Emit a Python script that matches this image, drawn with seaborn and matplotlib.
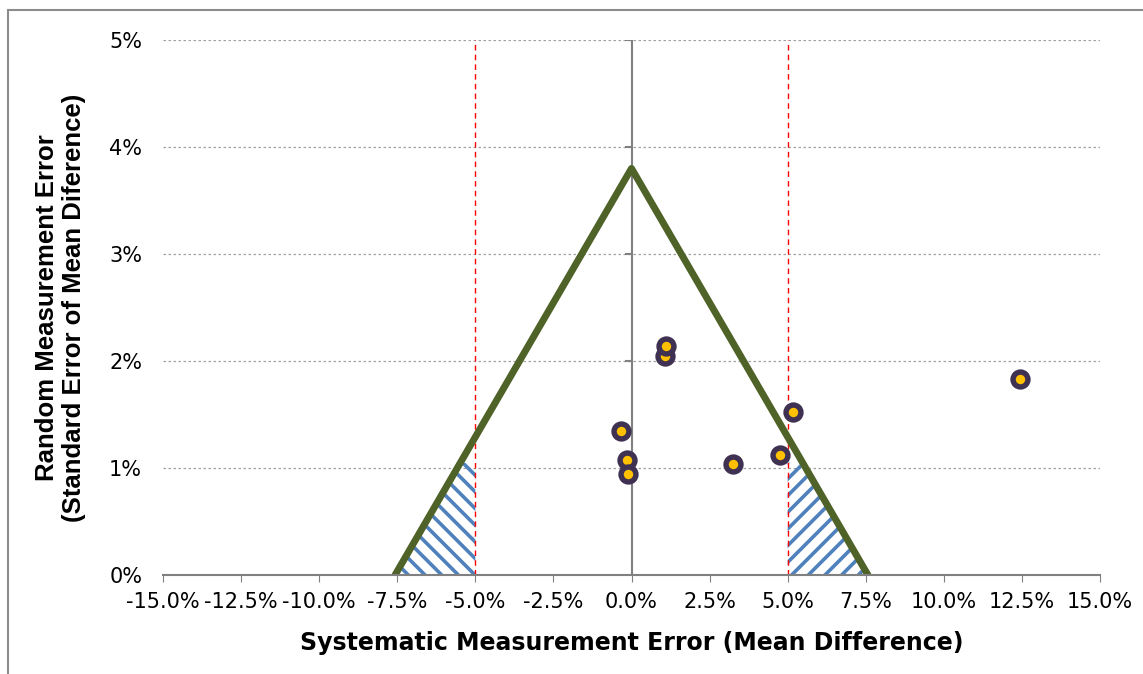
import numpy as np
import pandas as pd
import seaborn as sns
import matplotlib as mpl
mpl.use('Agg')
import matplotlib.pyplot as plt
from matplotlib.patches import Rectangle
from matplotlib.ticker import FuncFormatter

# measured points (systematic error %, random error %)
mean_diff = [-0.35, -0.13, -0.10, 1.07, 1.11, 3.24, 4.75, 5.17, 12.44]
std_err = [1.35, 1.075, 0.94, 2.05, 2.14, 1.04, 1.12, 1.52, 1.83]

# acceptance triangle
tri_x = [-7.57, 0.0, 7.57]
tri_y = [0.0, 3.80, 0.0]

# hatched zones
hatch_top = 1.05
limit = 5.0

sns.set_style('white')
plt.rcParams['font.family'] = ['DejaVu Sans']
plt.rcParams['text.color'] = 'black'
plt.rcParams['axes.labelcolor'] = 'black'
plt.rcParams['hatch.linewidth'] = 2.6
plt.rcParams['hatch.color'] = '#4f81bd'

fig = plt.figure(figsize=(11.43, 6.74), dpi=100)
ax = fig.add_axes([163/1143, 1-575/674, 937/1143, 535/674])

# outer border of the chart area
fig.patches.append(Rectangle((8/1143, -0.1), 1.2, 1 - 10/674 + 0.1, transform=fig.transFigure,
                             fill=False, edgecolor='#8c8c8c', linewidth=1.5, zorder=0))

for v in [1, 2, 3, 4, 5]:
    ax.axhline(v, color='#a0a0a0', linestyle=(0, (2, 2)), linewidth=0.9, zorder=1)

ax.axvline(0, color='#808080', linewidth=1.5, zorder=2)
ax.plot(np.zeros(5), [1, 2, 3, 4, 5], marker=0, markersize=5, markeredgewidth=1.5,
        color='#808080', linestyle='none', zorder=2)

ax.vlines([-limit, limit], 0, 5, colors='red', linestyles=(0, (4, 3)), linewidth=1.0, zorder=3)

# hatched zones between triangle sides and +/-5%
slope = tri_y[1] / tri_x[2]
ys = np.array([0.0, hatch_top])
left_edge = -(tri_x[2] - ys / slope)
right_edge = tri_x[2] - ys / slope
ax.fill_betweenx(ys, left_edge, [-limit, -limit], facecolor='none', edgecolor='#4f81bd',
                 hatch='\\\\', linewidth=0, zorder=2)
ax.fill_betweenx(ys, [limit, limit], right_edge, facecolor='none', edgecolor='#4f81bd',
                 hatch='//', linewidth=0, zorder=2)

sns.lineplot(x=tri_x, y=tri_y, ax=ax, color='#4f6228', linewidth=5, sort=False, zorder=4)

pts = pd.DataFrame({'x': mean_diff, 'y': std_err})
sns.scatterplot(data=pts, x='x', y='y', ax=ax, s=115, color='#ffc000', edgecolor='#3f3151',
                linewidth=3.9, zorder=5)

ax.set_xlim(-15, 15)
ax.set_ylim(0, 5)
ax.set_xticks(np.arange(-15, 15.1, 2.5))
ax.set_yticks([0, 1, 2, 3, 4, 5])
ax.xaxis.set_major_formatter(FuncFormatter(lambda v, p: '{:.1f}%'.format(v)))
ax.yaxis.set_major_formatter(FuncFormatter(lambda v, p: '{:.0f}%'.format(v)))
ax.tick_params(axis='x', length=5, color='#808080', direction='out', labelsize=15, pad=7,
               bottom=True, labelcolor='black')
ax.tick_params(axis='y', length=0, labelsize=15, pad=15, labelcolor='black')

for s in ['top', 'right', 'left']:
    ax.spines[s].set_visible(False)
ax.spines['bottom'].set_color('#808080')
ax.spines['bottom'].set_linewidth(1.5)
ax.spines['bottom'].set_zorder(6)

ax.set_xlabel('Systematic Measurement Error (Mean Difference)', fontsize=17, fontweight='bold')
ax.xaxis.set_label_coords(0.5, -0.105)
ax.set_ylabel('Random Measurement Error\n(Standard Error of Mean Diference)', fontsize=18.5,
              fontweight='bold', family='Liberation Sans', linespacing=1.15)
ax.yaxis.set_label_coords(-0.082, 0.5)

fig.savefig('out.png', dpi=100)
